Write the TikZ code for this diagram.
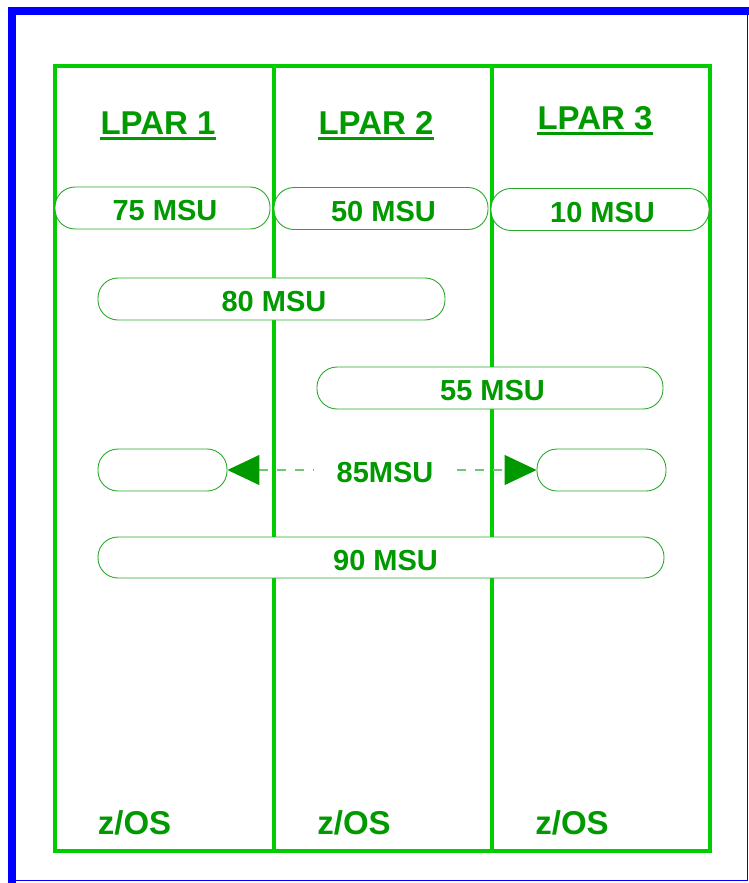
\documentclass[tikz,border=0pt]{standalone}
\usepackage{fontspec}
\setmainfont{Liberation Sans}
\usetikzlibrary{arrows.meta}
\definecolor{lparline}{RGB}{0,204,0}
\definecolor{lpartext}{RGB}{0,153,0}
\definecolor{msuline}{RGB}{40,170,40}
\definecolor{dashgreen}{RGB}{110,200,110}
\tikzset{
  msu/.style={draw=msuline, fill=white, line width=0.9pt, rounded corners=20pt,
    minimum height=42pt, inner sep=0pt, text=lpartext,
    text height=25pt, text depth=0pt,
    execute at begin node=\hspace*{5pt},
    font=\fontsize{29}{30}\selectfont\bfseries},
  lpar/.style={anchor=base, inner sep=0pt, text=lpartext,
    font=\fontsize{33}{34}\selectfont\bfseries},
  bar/.style={lpartext, line width=3pt},
  lpartip/.tip={Triangle[length=32pt, width=30pt, color=lpartext]}
}
\begin{document}
\begin{tikzpicture}[x=1pt, y=-1pt]
  \useasboundingbox (0,0) rectangle (749,883);
  % outer frame
  \draw[blue, line width=8pt] (12,883) -- (12,11.5) -- (749,11.5);
  \draw[blue, line width=1.6pt] (747.5,11.5) -- (747.5,880.5) -- (12,880.5);
  % partitions
  \begin{scope}[lparline, line width=4pt]
    \draw (55,66) rectangle (710,851);
    \draw (273.5,66) -- (273.5,851);
    \draw (492,66) -- (492,851);
  \end{scope}
  % headers and footers
  \draw
    (158,134) node[lpar] (lpar1) {LPAR 1}
    (376,134) node[lpar] (lpar2) {LPAR 2}
    (595,129) node[lpar] (lpar3) {LPAR 3}
    (134.5,834) node[lpar] (zos1) {z/OS}
    (354,834) node[lpar] (zos2) {z/OS}
    (572,834) node[lpar] (zos3) {z/OS};
  \draw[bar] ([yshift=-4pt]lpar1.south west) -- ([yshift=-4pt]lpar1.south east);
  \draw[bar] ([yshift=-4pt]lpar2.south west) -- ([yshift=-4pt]lpar2.south east);
  \draw[bar] ([yshift=-4pt]lpar3.south west) -- ([yshift=-4pt]lpar3.south east);
  % capacities
  \node[msu, minimum width=215pt] (c75) at (162.5,208) {75 MSU};
  \node[msu, minimum width=214pt] (c50) at (381,208.5) {50 MSU};
  \node[msu, minimum width=218pt] (c10) at (600,209.5) {10 MSU};
  \node[msu, minimum width=347pt] (c80) at (271.5,299) {80 MSU};
  \node[msu, minimum width=346pt] (c55) at (490,388) {55 MSU};
  \node[msu, minimum width=129pt] (cleft) at (162.5,470) {};
  \node[msu, minimum width=129pt] (cright) at (601.5,470) {};
  \node[msu, minimum width=566pt, minimum height=41pt] (c90) at (381,557.5) {\hspace*{4pt}90 MSU};
  \draw[dashgreen, line width=1.2pt, dash pattern=on 9pt off 9pt, lpartip-lpartip]
    (cleft.east) -- node[fill=white, inner xsep=17pt, text=lpartext,
      text height=25pt, text depth=0pt,
      font=\fontsize{29}{30}\selectfont\bfseries] (t85) {\hspace*{6pt}85MSU} (cright.west);
\end{tikzpicture}
\end{document}
